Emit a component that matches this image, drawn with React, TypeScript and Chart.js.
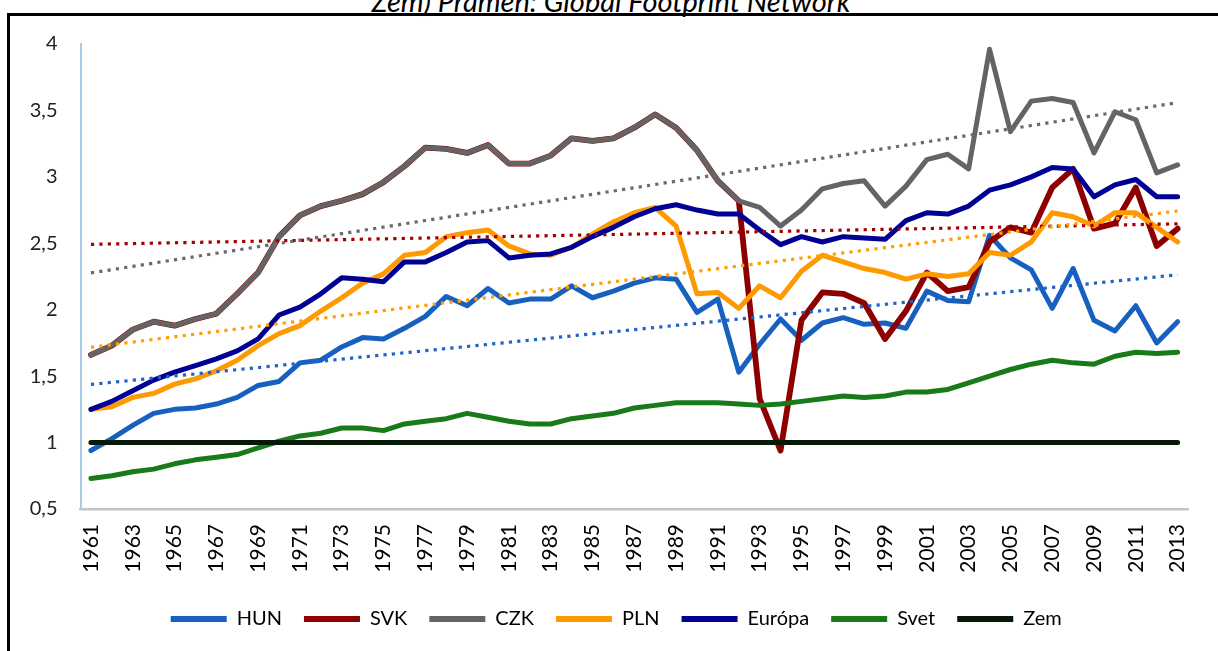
import React, { useEffect, useRef } from "react";
import { Chart, registerables } from "chart.js";

Chart.register(...registerables);

const years = [
  "1961","1962","1963","1964","1965","1966","1967","1968","1969","1970",
  "1971","1972","1973","1974","1975","1976","1977","1978","1979","1980",
  "1981","1982","1983","1984","1985","1986","1987","1988","1989","1990",
  "1991","1992","1993","1994","1995","1996","1997","1998","1999","2000",
  "2001","2002","2003","2004","2005","2006","2007","2008","2009","2010",
  "2011","2012","2013",
];

const hun = [
  0.94, 1.03, 1.13, 1.22, 1.25, 1.26, 1.29, 1.34, 1.43, 1.46,
  1.60, 1.62, 1.72, 1.79, 1.78, 1.86, 1.95, 2.10, 2.03, 2.16,
  2.05, 2.08, 2.08, 2.18, 2.09, 2.14, 2.20, 2.24, 2.23, 1.98,
  2.08, 1.53, 1.74, 1.93, 1.77, 1.90, 1.94, 1.89, 1.90, 1.86,
  2.14, 2.07, 2.06, 2.56, 2.39, 2.30, 2.01, 2.31, 1.92, 1.84,
  2.03, 1.75, 1.91,
];

const czk = [
  1.66, 1.73, 1.85, 1.91, 1.88, 1.93, 1.97, 2.12, 2.28, 2.55,
  2.71, 2.78, 2.82, 2.87, 2.96, 3.08, 3.22, 3.21, 3.18, 3.24,
  3.10, 3.10, 3.16, 3.29, 3.27, 3.29, 3.37, 3.47, 3.37, 3.20,
  2.97, 2.82, 2.77, 2.63, 2.75, 2.91, 2.95, 2.97, 2.78, 2.93,
  3.13, 3.17, 3.06, 3.96, 3.34, 3.57, 3.59, 3.56, 3.18, 3.49,
  3.43, 3.03, 3.09,
];

const svk = [
  1.66, 1.73, 1.85, 1.91, 1.88, 1.93, 1.97, 2.12, 2.28, 2.55,
  2.71, 2.78, 2.82, 2.87, 2.96, 3.08, 3.22, 3.21, 3.18, 3.24,
  3.10, 3.10, 3.16, 3.29, 3.27, 3.29, 3.37, 3.47, 3.37, 3.20,
  2.97, 2.82, 1.33, 0.94, 1.92, 2.13, 2.12, 2.05, 1.78, 1.99,
  2.28, 2.14, 2.17, 2.51, 2.62, 2.58, 2.92, 3.06, 2.61, 2.65,
  2.92, 2.48, 2.61,
];

const pln = [
  1.25, 1.27, 1.34, 1.37, 1.44, 1.48, 1.54, 1.62, 1.73, 1.82,
  1.88, 1.99, 2.09, 2.20, 2.27, 2.41, 2.43, 2.55, 2.58, 2.60,
  2.48, 2.42, 2.41, 2.47, 2.57, 2.66, 2.73, 2.77, 2.63, 2.12,
  2.13, 2.01, 2.18, 2.09, 2.29, 2.41, 2.36, 2.31, 2.28, 2.23,
  2.27, 2.25, 2.27, 2.43, 2.41, 2.51, 2.73, 2.70, 2.63, 2.73,
  2.73, 2.62, 2.51,
];

const europa = [
  1.25, 1.31, 1.39, 1.47, 1.53, 1.58, 1.63, 1.69, 1.78, 1.96,
  2.02, 2.12, 2.24, 2.23, 2.21, 2.36, 2.36, 2.43, 2.51, 2.52,
  2.39, 2.41, 2.42, 2.47, 2.55, 2.62, 2.70, 2.76, 2.79, 2.75,
  2.72, 2.72, 2.60, 2.49, 2.55, 2.51, 2.55, 2.54, 2.53, 2.67,
  2.73, 2.72, 2.78, 2.90, 2.94, 3.00, 3.07, 3.06, 2.85, 2.94,
  2.98, 2.85, 2.85,
];

const svet = [
  0.73, 0.75, 0.78, 0.80, 0.84, 0.87, 0.89, 0.91, 0.96, 1.01,
  1.05, 1.07, 1.11, 1.11, 1.09, 1.14, 1.16, 1.18, 1.22, 1.19,
  1.16, 1.14, 1.14, 1.18, 1.20, 1.22, 1.26, 1.28, 1.30, 1.30,
  1.30, 1.29, 1.28, 1.29, 1.31, 1.33, 1.35, 1.34, 1.35, 1.38,
  1.38, 1.40, 1.45, 1.50, 1.55, 1.59, 1.62, 1.60, 1.59, 1.65,
  1.68, 1.67, 1.68,
];

const zem = [
  1, 1, 1, 1, 1, 1, 1, 1, 1, 1,
  1, 1, 1, 1, 1, 1, 1, 1, 1, 1,
  1, 1, 1, 1, 1, 1, 1, 1, 1, 1,
  1, 1, 1, 1, 1, 1, 1, 1, 1, 1,
  1, 1, 1, 1, 1, 1, 1, 1, 1, 1,
  1, 1, 1,
];

const yTicks = [0.5, 1, 1.5, 2, 2.5, 3, 3.5, 4];

const seriesNames = ["HUN", "SVK", "CZK", "PLN", "Európa", "Svet", "Zem"];
const seriesColors = ["#1760c0", "#8e0000", "#646464", "#ff9900", "#000094", "#187a18", "#061806"];
const seriesWidths = [5, 5.8, 5, 5, 5, 5, 5];
const seriesData = [hun, svk, czk, pln, europa, svet, zem];

const trendColors = ["#1f63c6", "#a30000", "#6a6a6a", "#ffa000"];

// least-squares linear trend (like Excel's linear trendline)
function linearTrend(values: number[]): number[] {
  const n = values.length;
  let sx = 0, sy = 0, sxx = 0, sxy = 0;
  for (let i = 0; i < n; i++) {
    sx += i; sy += values[i]; sxx += i * i; sxy += i * values[i];
  }
  const b = (n * sxy - sx * sy) / (n * sxx - sx * sx);
  const a = (sy - b * sx) / n;
  return values.map((_, i) => a + b * i);
}

const legendShift = {
  id: "legendShift",
  afterLayout(chart: any) {
    if (chart.legend) {
      chart.legend.left += 17;
      chart.legend.right += 17;
    }
  },
};

export default function App() {
  const ref = useRef<HTMLCanvasElement | null>(null);

  useEffect(() => {
    if (!ref.current) return;
    const fontFamily = "Lato, 'Open Sans', sans-serif";

    const mainSets = seriesNames.map((name, i) => ({
      label: name,
      data: seriesData[i],
      borderColor: seriesColors[i],
      backgroundColor: seriesColors[i],
      borderWidth: seriesWidths[i],
      pointRadius: 0,
      tension: 0,
      fill: false,
      order: -i,
      borderCapStyle: "round" as const,
      borderJoinStyle: "round" as const,
    }));

    const trendSets = [hun, svk, czk, pln].map((arr, i) => ({
      label: "Lineárny (" + seriesNames[i] + ")",
      data: linearTrend(arr),
      borderColor: trendColors[i],
      backgroundColor: trendColors[i],
      borderWidth: 3.2,
      borderDash: [3.2, 5.2],
      pointRadius: 0,
      tension: 0,
      fill: false,
      order: -100 - i,
    }));

    const chart = new Chart(ref.current, {
      type: "line",
      data: { labels: years, datasets: [...mainSets, ...trendSets] },
      plugins: [legendShift],
      options: {
        animation: false,
        responsive: false,
        layout: { padding: { top: 44, left: 0, right: 19.5, bottom: 12 } },
        plugins: {
          tooltip: { enabled: false },
          title: { display: false },
          legend: {
            display: true,
            position: "bottom",
            labels: {
              boxWidth: 56,
              boxHeight: 6,
              padding: 22,
              color: "#000",
              font: { family: fontFamily, size: 20 },
              filter: (item: any) => !String(item.text).startsWith("Lineárny"),
              sort: (a: any, b: any) => a.datasetIndex - b.datasetIndex,
              generateLabels: (c: any) => {
                const items = (Chart.defaults.plugins.legend.labels as any).generateLabels(c);
                return items.map((it: any) => ({
                  ...it,
                  fillStyle: it.strokeStyle,
                  lineWidth: 0,
                  lineDash: [],
                }));
              },
            },
          },
        },
        scales: {
          x: {
            type: "category",
            offset: true,
            grid: { display: false, drawTicks: false },
            border: { display: true, color: "#c4c4c4", width: 2.5 },
            ticks: {
              autoSkip: false,
              maxRotation: 90,
              minRotation: 90,
              padding: 15,
              color: "#000",
              font: { family: fontFamily, size: 21 },
              callback: (_v: any, i: number) => (i % 2 === 0 ? years[i] : ""),
            },
            afterFit: (s: any) => { s.height = 78; },
          },
          y: {
            min: 0.5,
            max: 4,
            grid: { display: false, drawTicks: false },
            border: { display: true, color: "#a9cbeb", width: 2 },
            afterBuildTicks: (s: any) => { s.ticks = yTicks.map((v) => ({ value: v })); },
            ticks: {
              padding: 23,
              color: "#222",
              font: { family: fontFamily, size: 20 },
              callback: (v: any) => String(v).replace(".", ","),
            },
            afterFit: (s: any) => { s.width = 80.5; },
          },
        },
      },
    });
    return () => chart.destroy();
  }, []);

  return (
    <div style={{ position: "fixed", left: 0, top: 0, width: 1218, height: 651, overflow: "hidden", background: "#fff" }}>
      <div
        style={{
          position: "absolute", left: 0, top: -14.5, width: 1222, textAlign: "center",
          fontFamily: "Lato, sans-serif", fontStyle: "italic", fontSize: 29, lineHeight: "29px", color: "#000",
          whiteSpace: "nowrap",
        }}
      >
        Zem) Prameň: Global Footprint Network
      </div>
      <div
        style={{
          position: "absolute", left: 7, top: 13, width: 1240, height: 700,
          border: "3px solid #000", boxSizing: "border-box", pointerEvents: "none",
        }}
      />
      <canvas ref={ref} width={1218} height={651} style={{ position: "absolute", left: 0, top: 0, width: 1218, height: 651 }} />
    </div>
  );
}
